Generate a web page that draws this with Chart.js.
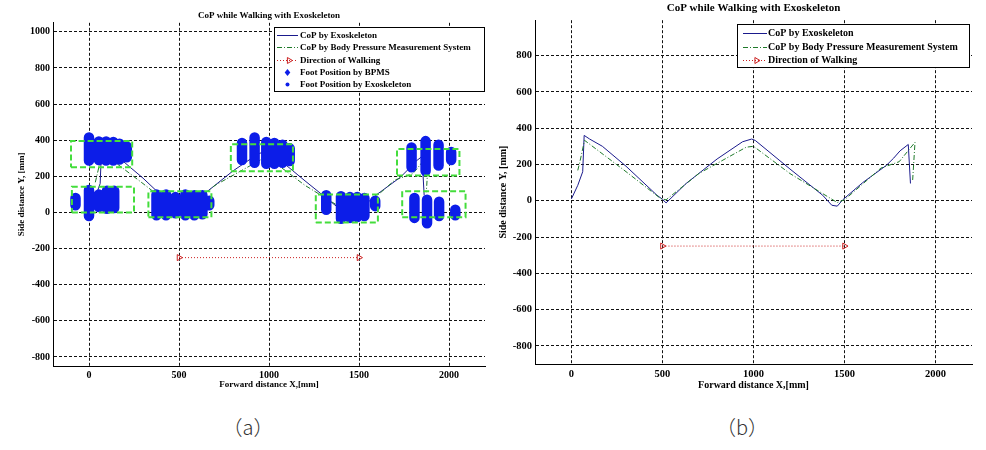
<!DOCTYPE html>
<html>
<head>
<meta charset="utf-8">
<script src="https://cdn.jsdelivr.net/npm/chart.js@4.4.0/dist/chart.umd.min.js"></script>
<style>
    body { margin: 0; background: #fff; width: 986px; height: 450px; position: relative; overflow: hidden; }
    .panel { position: absolute; top: 0; height: 400px; }
    #wrapA { left: 0; width: 490px; }
    #wrapB { left: 490px; width: 496px; }
    .cap { position: absolute; top: 412px; width: 80px; text-align: center; font-family: "Noto Sans CJK SC", sans-serif; font-size: 20px; font-weight: 300; color: #333; }
</style>
</head>
<body>
<div class="panel" id="wrapA"><canvas id="chartA" width="490" height="400"></canvas></div>
<div class="panel" id="wrapB"><canvas id="chartB" width="496" height="400"></canvas></div>
<div class="cap" style="left:208px">（a）</div>
<div class="cap" style="left:702px">（b）</div>
<script>
// tick labels
var xTicks = [0, 500, 1000, 1500, 2000];
var yTicksA = [-800, -600, -400, -200, 0, 200, 400, 600, 800, 1000];
var yTicksB = [-800, -600, -400, -200, 0, 200, 400, 600, 800];

// CoP traces [x, y] in mm
var copExo = [[0, 10], [35, 85], [62, 160], [70, 360], [100, 340], [170, 300], [300, 190], [470, 30], [500, 8], [520, -12], [630, 95], [800, 230], [940, 325], [990, 340], [1010, 332], [1200, 175], [1380, 30], [1430, -25], [1460, -30], [1490, 5], [1600, 100], [1730, 195], [1770, 235], [1805, 275], [1850, 310], [1862, 95]];
var copBpms = [[35, 167], [50, 230], [72, 333], [300, 160], [490, 12], [520, 5], [700, 150], [960, 295], [1000, 300], [1200, 150], [1460, -10], [1500, 5], [1700, 180], [1800, 215], [1887, 322], [1874, 112]];

// direction of walking
var walkX = [500, 1500];
var walkY = -250;

// foot positions (each bar: x, y bottom, y top)
var foot1 = [[0, 287, 415], [55, 290, 393], [95, 287, 393], [135, 287, 390], [170, 293, 380], [210, 305, 365]];
var foot2 = [[-75, 40, 80], [0, -20, 125], [55, 30, 100], [100, 20, 120], [140, 25, 120]];
var foot3 = [[375, -15, 100], [428, -15, 100], [480, -5, 85], [535, -15, 100], [585, -15, 95], [630, -10, 95], [668, 40, 65]];
var foot4 = [[850, 290, 385], [920, 275, 415], [985, 270, 390], [1030, 270, 385], [1075, 275, 375], [1115, 285, 355]];
var foot5 = [[1318, 15, 95], [1400, -35, 90], [1450, -30, 85], [1490, -25, 85], [1530, -20, 80], [1590, 35, 65]];
var foot6 = [[1792, 250, 360], [1870, 230, 395], [1942, 260, 375], [2012, 290, 335]];
var foot7 = [[1808, -30, 80], [1878, -60, 70], [1945, -20, 60], [2035, -15, 15]];

// foot boxes [xmin, xmax, ymin, ymax]
var footBoxes = [[-100, 240, 250, 395], [-95, 250, 0, 142], [330, 680, -26, 117], [788, 1133, 228, 378], [1260, 1605, -55, 100], [1711, 2058, 205, 352], [1740, 2092, -27, 118]];

var serif = '"Liberation Serif", "Times New Roman", serif';

function toPts(arr) {
    return arr.map(function (p) { return { x: p[0], y: p[1] }; });
}

function barPts() {
    var pts = [];
    [foot1, foot2, foot3, foot4, foot5, foot6, foot7].forEach(function (f) {
        f.forEach(function (b) {
            pts.push({ x: b[0], y: b[1] }, { x: b[0], y: b[2] }, { x: b[0], y: null });
        });
    });
    return pts;
}

function boxPts() {
    var pts = [];
    footBoxes.forEach(function (b) {
        pts.push({ x: b[0], y: b[2] }, { x: b[1], y: b[2] }, { x: b[1], y: b[3] }, { x: b[0], y: b[3] }, { x: b[0], y: b[2] }, { x: b[0], y: null });
    });
    return pts;
}

function drawMarker(ctx, kind, x, y, r, color) {
    ctx.save();
    ctx.setLineDash([]);
    ctx.strokeStyle = color;
    ctx.fillStyle = color;
    ctx.lineWidth = 1;
    ctx.beginPath();
    if (kind == 'triangle') {
        ctx.moveTo(x + r, y);
        ctx.lineTo(x - r * 0.7, y - r);
        ctx.lineTo(x - r * 0.7, y + r);
        ctx.closePath();
        ctx.stroke();
    } else if (kind == 'diamond') {
        ctx.moveTo(x, y - r);
        ctx.lineTo(x + r * 0.8, y);
        ctx.lineTo(x, y + r);
        ctx.lineTo(x - r * 0.8, y);
        ctx.closePath();
        ctx.fill();
    } else {
        ctx.arc(x, y, r, 0, Math.PI * 2);
        ctx.fill();
    }
    ctx.restore();
}

// legend box drawn inside the plot like matlab
var legendBox = {
    id: 'legendBox',
    afterDraw: function (chart, args, opts) {
        var ctx = chart.ctx;
        ctx.save();
        ctx.fillStyle = '#fff';
        ctx.fillRect(opts.x, opts.y, opts.w, opts.h);
        ctx.strokeStyle = '#000';
        ctx.lineWidth = 1;
        ctx.strokeRect(opts.x + 0.5, opts.y + 0.5, opts.w, opts.h);
        ctx.font = opts.font;
        ctx.textBaseline = 'middle';
        opts.items.forEach(function (idx, i) {
            var ds = chart.data.datasets[idx];
            var y = Math.round(opts.y + opts.first + i * opts.step) + 0.5;
            var x0 = opts.x + opts.sample[0], x1 = opts.x + opts.sample[1];
            if (ds.legendKind == 'line') {
                ctx.save();
                ctx.strokeStyle = ds.borderColor;
                ctx.lineWidth = 1;
                ctx.setLineDash(ds.borderDash || []);
                ctx.beginPath();
                ctx.moveTo(x0, y);
                ctx.lineTo(x1, y);
                ctx.stroke();
                ctx.restore();
                if (ds.legendMarker) {
                    drawMarker(ctx, ds.legendMarker, (x0 + x1) / 2 + 2, y, 3, ds.borderColor);
                }
            } else {
                drawMarker(ctx, ds.legendMarker, (x0 + x1) / 2, y, ds.legendSize, ds.borderColor);
            }
            ctx.fillStyle = '#000';
            ctx.fillText(ds.label, opts.x + opts.textX, y);
        });
        ctx.restore();
    }
};

function copDatasets() {
    return [
        {
            label: 'CoP by Exoskeleton', legendKind: 'line', data: toPts(copExo), showLine: true,
            borderColor: '#1a1a8c', borderWidth: 1, pointRadius: 0, order: 4
        },
        {
            label: 'CoP by Body Pressure Measurement System', legendKind: 'line', data: toPts(copBpms), showLine: true,
            borderColor: '#1f7a2a', borderWidth: 1, borderDash: [5, 2, 1, 2], pointRadius: 0, order: 3
        },
        {
            label: 'Direction of Walking', legendKind: 'line', legendMarker: 'triangle',
            data: walkX.map(function (x) { return { x: x, y: walkY }; }), showLine: true,
            borderColor: '#cc2222', borderWidth: 1, borderDash: [1, 2],
            pointStyle: 'triangle', rotation: 90, pointRadius: 3.5, pointBorderWidth: 1,
            pointBackgroundColor: 'rgba(0,0,0,0)', pointBorderColor: '#cc2222', order: 2
        }
    ];
}

function makeOptions(cfg) {
    var tickFont = { family: serif, size: cfg.tickSize, weight: 'bold' };
    var labelFont = { family: serif, size: cfg.labelSize, weight: 'bold' };
    var plain = function (v) { return String(v); };
    return {
        responsive: false,
        animation: false,
        layout: { padding: { left: 0, right: cfg.padRight, top: 0, bottom: 0 } },
        scales: {
            x: {
                type: 'linear', min: -200, max: 2200,
                afterBuildTicks: function (s) { s.ticks = xTicks.map(function (v) { return { value: v }; }); },
                afterFit: function (s) { s.height = cfg.xHeight; },
                ticks: { font: tickFont, color: '#000', padding: cfg.xPad, autoSkip: false, maxRotation: 0, callback: plain },
                grid: { color: '#111', lineWidth: 1, drawTicks: false },
                border: { display: true, color: '#000', width: 1, dash: [3, 2] },
                title: { display: true, text: 'Forward distance X,[mm]', font: labelFont, color: '#000', padding: { top: 0, bottom: cfg.xTitlePad } }
            },
            y: {
                type: 'linear', min: cfg.yMin, max: cfg.yMax,
                afterBuildTicks: function (s) { s.ticks = cfg.yTicks.map(function (v) { return { value: v }; }); },
                afterFit: function (s) { s.width = cfg.yWidth; },
                ticks: { font: tickFont, color: '#000', padding: 3, autoSkip: false, callback: plain },
                grid: { color: '#111', lineWidth: 1, drawTicks: false },
                border: { display: true, color: '#000', width: 1, dash: [3, 2] },
                title: { display: true, text: 'Side distance Y, [mm]', font: labelFont, color: '#000', padding: { top: cfg.yTitlePad, bottom: 0 } }
            }
        },
        plugins: {
            legend: { display: false },
            tooltip: { enabled: false },
            title: {
                display: true, fullSize: false, text: 'CoP while Walking with Exoskeleton', color: '#000',
                font: { family: serif, size: cfg.titleSize, weight: 'bold' }, padding: cfg.titlePad
            },
            legendBox: cfg.legend
        }
    };
}

// panel (a)
var dsA = copDatasets();
dsA.push(
    {
        label: 'Foot Position by BPMS', legendKind: 'marker', legendMarker: 'diamond', legendSize: 3.5,
        data: barPts(), showLine: true, spanGaps: false, borderColor: '#0c1de8', borderWidth: 10.5,
        borderCapStyle: 'round', pointRadius: 0, order: 1
    },
    {
        label: 'Foot Position by Exoskeleton', legendKind: 'marker', legendMarker: 'dot', legendSize: 2,
        data: [], showLine: false, borderColor: '#0c1de8', pointRadius: 0, order: 1
    },
    {
        label: 'Foot boxes', data: boxPts(), showLine: true, spanGaps: false, borderColor: '#44dd3c',
        borderWidth: 2, borderDash: [6, 3], pointRadius: 0, order: 0
    }
);

new Chart(document.getElementById('chartA'), {
    type: 'scatter',
    data: { datasets: dsA },
    options: makeOptions({
        tickSize: 10, labelSize: 9, titleSize: 9, titlePad: { top: 10, bottom: 2 },
        padRight: 5, xHeight: 34, xPad: 3, xTitlePad: 10, yWidth: 53, yTitlePad: 16,
        yMin: -850, yMax: 1050, yTicks: yTicksA,
        legend: { x: 274, y: 27, w: 210, h: 64, first: 8, step: 12.3, sample: [3, 24], textX: 26, font: 'bold 9px ' + serif, items: [0, 1, 2, 3, 4] }
    }),
    plugins: [legendBox]
});

// panel (b)
new Chart(document.getElementById('chartB'), {
    type: 'scatter',
    data: { datasets: copDatasets() },
    options: makeOptions({
        tickSize: 10.5, labelSize: 10, titleSize: 11, titlePad: { top: 2, bottom: 5 },
        padRight: 14, xHeight: 36, xPad: 4, xTitlePad: 9, yWidth: 45, yTitlePad: 7,
        yMin: -900, yMax: 995, yTicks: yTicksB,
        legend: { x: 247, y: 24, w: 232, h: 43, first: 9, step: 13.5, sample: [6, 30], textX: 31, font: 'bold 10px ' + serif, items: [0, 1, 2] }
    }),
    plugins: [legendBox]
});
</script>
</body>
</html>
